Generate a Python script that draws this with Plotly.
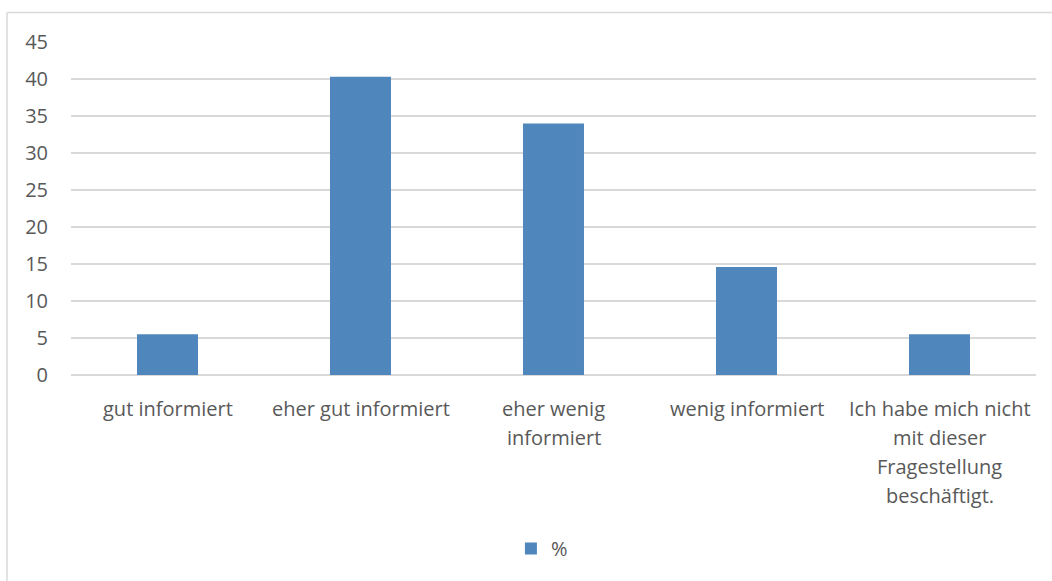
import plotly.graph_objects as go

# Survey answers (percent of respondents)
categories = [
    "gut informiert",
    "eher gut informiert",
    "eher wenig informiert",
    "wenig informiert",
    "Ich habe mich nicht mit dieser Fragestellung beschäftigt.",
]
# Category labels as wrapped lines under each bar
label_lines = [
    ["gut informiert"],
    ["eher gut informiert"],
    ["eher wenig", "informiert"],
    ["wenig informiert"],
    ["Ich habe mich nicht", "mit dieser", "Fragestellung", "beschäftigt."],
]
percent = [5.5, 40.3, 34.0, 14.6, 5.5]
series_name = "%"
y_ticks = [0, 5, 10, 15, 20, 25, 30, 35, 40, 45]

FONT = "'Open Sans', sans-serif"
FS = 20
TEXT = "#595959"
GRID = "#D9D9D9"
BAR = "#4F86BC"

W, H = 1052, 581
ML, MR, MT, MB = 71, 16, 42, 206
LINE_H = 29.3  # label line pitch in px

fig = go.Figure(
    go.Bar(
        x=categories,
        y=percent,
        name=series_name,
        marker=dict(color=BAR, line=dict(width=0)),
        showlegend=True,
    )
)

# Wrapped category labels, one annotation per line
for cat, lines in zip(categories, label_lines):
    for i, line in enumerate(lines):
        fig.add_annotation(
            x=cat, y=0, xref="x", yref="y",
            text=line, showarrow=False,
            xanchor="center", yanchor="middle",
            yshift=-(33 + i * LINE_H),
            font=dict(family=FONT, size=FS, color=TEXT),
        )

fig.update_layout(
    width=W,
    height=H,
    margin=dict(l=ML, r=MR, t=MT, b=MB, pad=0),
    paper_bgcolor="white",
    plot_bgcolor="white",
    font=dict(family=FONT, size=FS, color=TEXT),
    bargap=0.684,
    legend=dict(
        orientation="h",
        x=0.488,
        xanchor="center",
        y=-0.521,
        yanchor="middle",
        font=dict(family=FONT, size=FS, color=TEXT),
        itemwidth=30,
    ),
    xaxis=dict(
        showticklabels=False,
        showgrid=False,
        showline=False,
        ticks="",
    ),
    yaxis=dict(
        range=[0, 45],
        tickvals=y_ticks,
        showgrid=True,
        gridcolor=GRID,
        gridwidth=2,
        zeroline=True,
        zerolinecolor=GRID,
        zerolinewidth=2,
        showline=False,
        ticks="",
        ticklabelstandoff=22,
    ),
)

# Chart-area frame (left and top edges)
plot_w = W - ML - MR
plot_h = H - MT - MB
fx0 = (7 - ML) / plot_w
fy1 = (H - MB - 12.5) / plot_h
fig.add_shape(type="line", xref="paper", yref="paper", x0=fx0, x1=fx0, y0=-2, y1=fy1,
              line=dict(color=GRID, width=1.5))
fig.add_shape(type="line", xref="paper", yref="paper", x0=fx0, x1=1.1, y0=fy1, y1=fy1,
              line=dict(color=GRID, width=1.5))

fig.write_html("out.html")
